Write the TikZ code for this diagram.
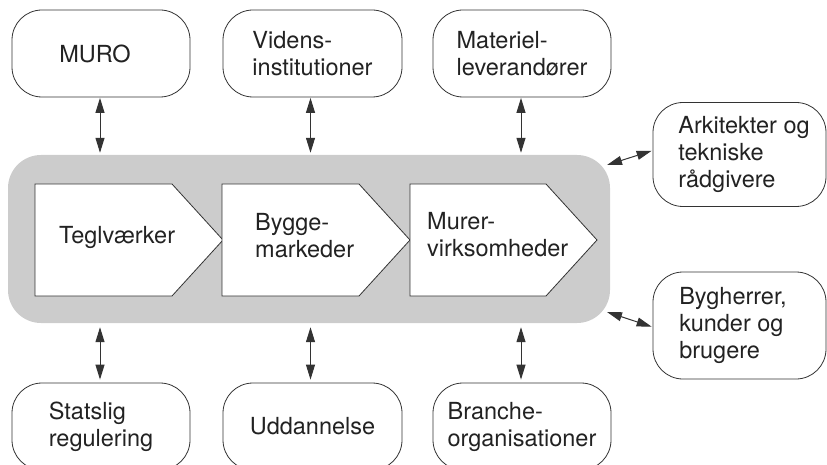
\documentclass[tikz,border=0pt]{standalone}
\usepackage{fontspec}
\setmainfont{TeX Gyre Heros}
\usetikzlibrary{arrows.meta}
\definecolor{linec}{HTML}{333333}
\definecolor{txtc}{HTML}{222222}
\definecolor{coregray}{HTML}{CCCCCC}
\begin{document}
\begin{tikzpicture}[x=1pt,y=-1pt,
  lbl/.style={font=\fontsize{23.5}{27}\selectfont, text=txtc, align=left},
  rbox/.style={lbl, draw=linec, line width=0.8pt, rounded corners=30pt, fill=white,
    minimum width=178pt, minimum height=87pt, inner sep=0pt},
  corebox/.style={fill=coregray, draw=none, rounded corners=33pt,
    minimum width=602pt, minimum height=168pt, inner sep=0pt},
  pent/.style={draw=linec, line width=0.8pt, fill=white},
  ptxt/.style={lbl, anchor=west, inner sep=0pt},
  arr/.style={draw=linec, line width=1pt, {Triangle[length=15pt,width=9pt]}-{Triangle[length=15pt,width=9pt]}}
]
\useasboundingbox (0,0) rectangle (827,465);
\clip (0,0) rectangle (827,465);

% central gray area
\node[corebox] (core) at (309,239) {};

% pentagons
\draw[pent] (35,184) -- (172,184) -- (223,240) -- (172,296) -- (35,296) -- cycle;
\draw[pent] (222,184) -- (359,184) -- (410,240) -- (359,296) -- (222,296) -- cycle;
\draw[pent] (410,184) -- (546,184) -- (597,240) -- (546,296) -- (410,296) -- cycle;
\node[ptxt] (tegl) at (59,237) {Teglværker};
\node[ptxt] (bygge) at (255,235.5) {Bygge-\\markeder};
\node[ptxt] (murer) at (427,235) {Murer-\\virksomheder};

% top boxes
\node[rbox] (muro) at (101,53.5) {MURO\kern12pt};
\node[rbox, minimum width=179pt] (viden) at (312.5,53.5) {Videns-\\institutioner};
\node[rbox] (mat) at (522,53.5) {Materiel-\\leverandører};

% right boxes
\node[rbox, minimum width=173pt, minimum height=104pt] (ark) at (739.5,154.5)
  {\kern9pt Arkitekter og\\\kern9pt tekniske\\\kern9pt rådgivere};
\node[rbox, minimum width=173pt, minimum height=107pt] (bygh) at (739.5,325.5)
  {Bygherrer,\kern13pt\\kunder og\\brugere};

% bottom boxes
\node[rbox] (stat) at (101,426.5) {Statslig\\regulering};
\node[rbox, minimum width=179pt] (udd) at (312.5,426.5) {Uddannelse};
\node[rbox] (branche) at (522,426.5) {Branche-\\organisationer};

% connectors
\draw[arr, shorten <=0.5pt, shorten >=2pt] ([xshift=-1pt]muro.south) -- ([xshift=-1pt]muro.south |- core.north);
\draw[arr, shorten <=0.5pt, shorten >=2pt] ([xshift=-2pt]viden.south) -- ([xshift=-2pt]viden.south |- core.north);
\draw[arr, shorten <=0.5pt, shorten >=2pt] ([xshift=-1pt]mat.south) -- ([xshift=-1pt]mat.south |- core.north);

\draw[arr, shorten <=3pt, shorten >=4pt] ([xshift=-1pt]stat.north) -- ([xshift=-1pt]stat.north |- core.south);
\draw[arr, shorten <=3pt, shorten >=4pt] ([xshift=-2pt]udd.north) -- ([xshift=-2pt]udd.north |- core.south);
\draw[arr, shorten <=3pt, shorten >=4pt] ([xshift=-1pt]branche.north) -- ([xshift=-1pt]branche.north |- core.south);

\coordinate (c1) at (607,165);
\coordinate (c2) at (607,312);
\draw[arr, shorten >=1pt] (c1) -- ([yshift=4pt]ark.west);
\draw[arr, shorten >=1pt] (c2) -- ([yshift=-1.5pt]bygh.west);
\end{tikzpicture}
\end{document}
